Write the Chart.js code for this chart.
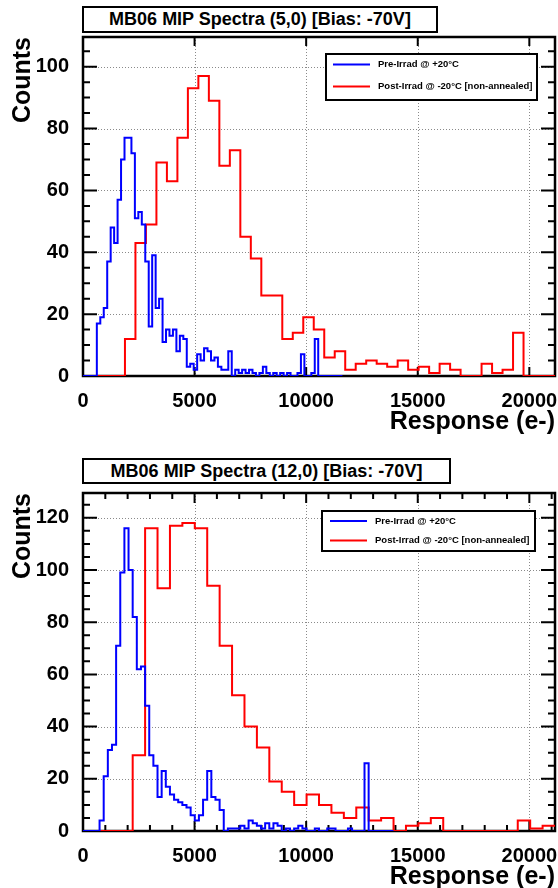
<!DOCTYPE html>
<html>
<head>
<meta charset="utf-8">
<script src="https://cdn.jsdelivr.net/npm/chart.js@4/dist/chart.umd.min.js"></script>
<style>
  html, body { margin: 0; padding: 0; background: #fff; }
  body { width: 558px; height: 888px; position: relative; overflow: hidden;
         font-family: "Liberation Sans", Arial, Helvetica, sans-serif; }
  .panel { position: absolute; left: 0; width: 558px; height: 444px; }
  .title { position: absolute; border: 2px solid #000; box-sizing: border-box; background: #fff;
           font-weight: bold; font-size: 18px; display: flex; align-items: center; justify-content: center;
           white-space: nowrap; color: #000; z-index: 2; }
</style>
</head>
<body>
<div class="panel" style="top:0px"><canvas id="c1" width="558" height="444"></canvas></div>
<div class="panel" style="top:444px"><canvas id="c2" width="558" height="444"></canvas></div>
<div class="title" id="t1" style="left:82px; top:6px; width:356px; height:27px;"></div>
<div class="title" id="t2" style="left:82px; top:458px; width:369px; height:26px;"></div>
<script>
// ---------------- data ----------------
const chartTitles = ['MB06 MIP Spectra (5,0) [Bias: -70V]', 'MB06 MIP Spectra (12,0) [Bias: -70V]'];
const seriesLabels = ['Pre-Irrad @ +20°C', 'Post-Irrad @ -20°C [non-annealed]'];
const xAxisTitle = 'Response (e-)';
const yAxisTitle = 'Counts';
const xMax = 21150;
const xTickValues = [0, 5000, 10000, 15000, 20000];
const topYMax = 109.6;
const topYTickValues = [0, 20, 40, 60, 80, 100];
const botYMax = 129.5;
const botYTickValues = [0, 20, 40, 60, 80, 100, 120];

// Panel (5,0): histogram counts per bin, bins start at 0
const topPreBinWidth = 155;
const topPreCounts = [0,0,0,0,17,19,22,37,48,43,57,70,77,77,72,51,53,49,
  37,16,39,22,25,11,15,13,15,8,13,12,
  3,4,2,7,5,9,8,5,6,3,2,2,8,
  0,2,1,2,1,2,1,0,1,3,1,
  0,1,0,1,0,1,0,0,1,7,
  0,0,1,12,0,0,0,0,0,0,0];
const topPostBinWidth = 470;
const topPostCounts = [0,0,0,0,12,43,49,69,63,77,93,97,89,68,73,45,38,26,26,12,14,19,15,6,8,
  2,4,5,4,3,5,2,3,1,4,2,0,0,4,1,2,14,0,0,0];

// Panel (12,0)
const botPreBinWidth = 185.5;
const botPreCounts = [0,0,0,0,4,21,31,33,71,99,116,100,82,62,63,48,29,25,
  13,23,17,14,12,11,10,9,6,4,6,12,23,13,12,8,0,
  1,1,1,2,1,4,3,2,1,3,1,3,2,
  0,1,0,1,2,1,0,0,1,0,0,1,
  1,0,0,0,1,0,0,0,26,0,0,0,0,0,0];
const botPostBinWidth = 556.6;
const botPostCounts = [0,0,0,0,29,116,93,117,118,116,94,71,52,40,32,19,15,10,14,10,7,5,9,4,5,
  0,2,3,5,0,0,0,0,0,0,4,1,2];

// ---------------- helpers ----------------
const FONT = '"Liberation Sans", Arial, Helvetica, sans-serif';
Chart.defaults.font.family = FONT;
Chart.defaults.color = '#000';

function histPoints(counts, w) {
  const pts = counts.map((c, i) => ({ x: i * w, y: c }));
  pts.push({ x: counts.length * w, y: counts[counts.length - 1] });
  return pts;
}

const frameTicks = {
  id: 'frameTicks',
  beforeDatasetsDraw(chart, args, o) {
    const { ctx, chartArea: a } = chart;
    const x = chart.scales.x, y = chart.scales.y;
    ctx.save();
    // dotted grid at major ticks
    ctx.strokeStyle = '#8a8a8a';
    ctx.lineWidth = 1;
    ctx.setLineDash([1, 2]);
    ctx.beginPath();
    for (let v = o.xMajor; v < x.max; v += o.xMajor) {
      const px = Math.round(x.getPixelForValue(v)) + 0.5;
      ctx.moveTo(px, a.top); ctx.lineTo(px, a.bottom);
    }
    for (let v = o.yMajor; v < y.max; v += o.yMajor) {
      const py = Math.round(y.getPixelForValue(v)) + 0.5;
      ctx.moveTo(a.left, py); ctx.lineTo(a.right, py);
    }
    ctx.stroke();
    ctx.setLineDash([]);
    // frame
    ctx.strokeStyle = '#000';
    ctx.lineWidth = 2.5;
    ctx.strokeRect(a.left, a.top, a.right - a.left, a.bottom - a.top);
    // tick marks (inside, all four sides)
    ctx.lineWidth = 2;
    ctx.beginPath();
    for (let v = 0; v <= y.max + 1e-9; v += o.yMinor) {
      const py = y.getPixelForValue(v);
      const len = (v % o.yMajor === 0) ? o.yMajorLen : o.yMinorLen;
      ctx.moveTo(a.left, py); ctx.lineTo(a.left + len, py);
      ctx.moveTo(a.right, py); ctx.lineTo(a.right - len, py);
    }
    const step = o.xMinor || o.xMajor;
    for (let v = 0; v <= x.max; v += step) {
      const px = x.getPixelForValue(v);
      const len = (v % o.xMajor === 0) ? o.xMajorLen : o.xMinorLen;
      ctx.moveTo(px, a.bottom); ctx.lineTo(px, a.bottom - len);
      ctx.moveTo(px, a.top); ctx.lineTo(px, a.top + len);
    }
    ctx.stroke();
    ctx.restore();
  }
};

const boxLegend = {
  id: 'boxLegend',
  afterDatasetsDraw(chart, args, o) {
    const { ctx } = chart;
    const b = o.box;
    ctx.save();
    ctx.fillStyle = '#fff';
    ctx.fillRect(b.x, b.y, b.w, b.h);
    ctx.strokeStyle = '#000';
    ctx.lineWidth = 2;
    ctx.strokeRect(b.x, b.y, b.w, b.h);
    ctx.font = 'bold 9.5px ' + FONT;
    ctx.textBaseline = 'middle';
    ctx.textAlign = 'left';
    chart.data.datasets.forEach((ds, i) => {
      const yy = b.y + o.rows[i];
      ctx.strokeStyle = ds.borderColor;
      ctx.lineWidth = 2;
      ctx.beginPath();
      ctx.moveTo(b.x + o.line0, yy); ctx.lineTo(b.x + o.line1, yy);
      ctx.stroke();
      ctx.fillStyle = '#000';
      ctx.fillText(ds.label, b.x + o.textX, yy);
    });
    ctx.restore();
  }
};

function makeChart(id, cfg) {
  const tickFont = { family: FONT, size: 20, weight: 'bold' };
  const titleFont = { family: FONT, size: 25, weight: 'bold' };
  return new Chart(document.getElementById(id), {
    type: 'line',
    data: {
      datasets: [
        { label: seriesLabels[0], data: histPoints(cfg.pre, cfg.preW), borderColor: '#0000ff',
          borderWidth: 2, pointRadius: 0, stepped: true, fill: false, tension: 0 },
        { label: seriesLabels[1], data: histPoints(cfg.post, cfg.postW), borderColor: '#ff0000',
          borderWidth: 2, pointRadius: 0, stepped: true, fill: false, tension: 0 }
      ]
    },
    options: {
      responsive: false, animation: false, devicePixelRatio: 1,
      events: [],
      layout: { padding: { left: 8, right: 3, top: cfg.padTop, bottom: 0 } },
      plugins: {
        legend: { display: false }, tooltip: { enabled: false }, title: { display: false },
        frameTicks: cfg.ticks,
        boxLegend: cfg.legend
      },
      scales: {
        x: {
          type: 'linear', min: 0, max: xMax,
          grid: { display: false }, border: { display: false },
          afterBuildTicks: s => { s.ticks = xTickValues.map(v => ({ value: v })); },
          ticks: { autoSkip: false, maxRotation: 0, minRotation: 0,
                   padding: 5, color: '#000', font: tickFont, callback: v => String(v) },
          title: { display: true, text: xAxisTitle, align: 'end', color: '#000', font: titleFont,
                   padding: { top: 0, bottom: cfg.xTitlePad } },
          afterFit: s => { s.height = cfg.xH; s.paddingLeft = 0; s.paddingRight = 0; }
        },
        y: {
          type: 'linear', min: 0, max: cfg.yMax,
          grid: { display: false }, border: { display: false },
          afterBuildTicks: s => { s.ticks = cfg.yTicks.map(v => ({ value: v })); },
          ticks: { autoSkip: false, padding: 6, color: '#000',
                   font: tickFont, callback: v => String(v) },
          title: { display: true, text: yAxisTitle, align: 'end', color: '#000', font: titleFont,
                   padding: { top: 0, bottom: 0 } },
          afterFit: s => { s.width = 75; s.paddingTop = 0; s.paddingBottom = 0; }
        }
      }
    },
    plugins: [frameTicks, boxLegend]
  });
}

document.getElementById('t1').textContent = chartTitles[0];
document.getElementById('t2').textContent = chartTitles[1];

makeChart('c1', {
  pre: topPreCounts, preW: topPreBinWidth, post: topPostCounts, postW: topPostBinWidth,
  yMax: topYMax, yTicks: topYTickValues, padTop: 37, xH: 68, xTitlePad: 7,
  ticks: { xMajor: 5000, xMinor: null, xMajorLen: 9, xMinorLen: 5, yMajor: 20, yMinor: 5, yMajorLen: 14, yMinorLen: 7 },
  legend: { box: { x: 326, y: 54, w: 211, h: 46 }, rows: [10.5, 32.5], line0: 7, line1: 44, textX: 52 }
});

makeChart('c2', {
  pre: botPreCounts, preW: botPreBinWidth, post: botPostCounts, postW: botPostBinWidth,
  yMax: botYMax, yTicks: botYTickValues, padTop: 49, xH: 57, xTitlePad: -4,
  ticks: { xMajor: 5000, xMinor: 1000, xMajorLen: 10, xMinorLen: 6, yMajor: 20, yMinor: 5, yMajorLen: 14, yMinorLen: 7 },
  legend: { box: { x: 322, y: 67, w: 213, h: 40 }, rows: [10, 29.5], line0: 8, line1: 45, textX: 53 }
});
</script>
</body>
</html>
